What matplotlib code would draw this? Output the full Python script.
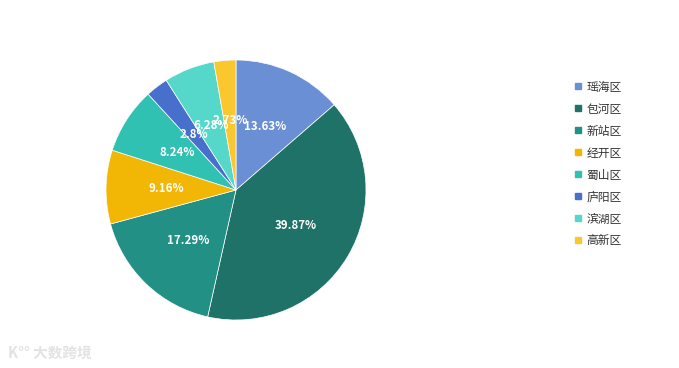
import matplotlib
matplotlib.use("Agg")
import matplotlib.pyplot as plt
from matplotlib.lines import Line2D
import numpy as np

plt.rcParams['font.family'] = ['Noto Sans CJK SC', 'DejaVu Sans']

# 数据
districts = ['瑶海区', '包河区', '新站区', '经开区', '蜀山区', '庐阳区', '滨湖区', '高新区']
shares = [13.63, 39.87, 17.29, 9.16, 8.24, 2.8, 6.28, 2.73]
colors = ['#6b8fd4', '#1e7268', '#229084', '#f2b705', '#30c1b3', '#4670cc', '#55d8c9', '#fbc72e']

W, H = 679, 368
fig = plt.figure(figsize=(W / 100, H / 100), dpi=100)

# 饼图区域: 中心 (236,190), 半径 130
cx, cy, r = 236, 190, 130
ax = fig.add_axes([(cx - r) / W, (H - cy - r) / H, 2 * r / W, 2 * r / H])

wedges, texts = ax.pie(
    shares, colors=colors, startangle=90, counterclock=False,
    radius=1.0, wedgeprops=dict(edgecolor='white', linewidth=0.5),
)
ax.set_xlim(-1, 1)
ax.set_ylim(-1, 1)
ax.set_aspect('equal')
ax.axis('off')

# 百分比标签
for val, w in zip(shares, wedges):
    mid = np.deg2rad((w.theta1 + w.theta2) / 2)
    x, y = 0.535 * np.cos(mid), 0.535 * np.sin(mid)
    ax.text(x, y, f'{val:g}%', ha='center', va='center', color='white',
            fontsize=8.3, fontweight='bold')

# 图例
handles = [Line2D([0], [0], marker='s', color='w', markerfacecolor=c,
                  markeredgecolor=c, markersize=5, linestyle='None') for c in colors]
fig.legend(handles, districts, loc='upper left', bbox_to_anchor=(561 / W, 1 - 70 / H),
           frameon=False, fontsize=8.5, handletextpad=0.25, handlelength=1.0,
           labelspacing=0.76, labelcolor='#333333')

# 水印
fig.text(8 / W, 1 - 353 / H, 'K°° 大数跨境', color='#e3e3e3', fontsize=10.5,
         fontweight='bold', va='center', ha='left')

fig.savefig('out.png', dpi=100, facecolor='white')
